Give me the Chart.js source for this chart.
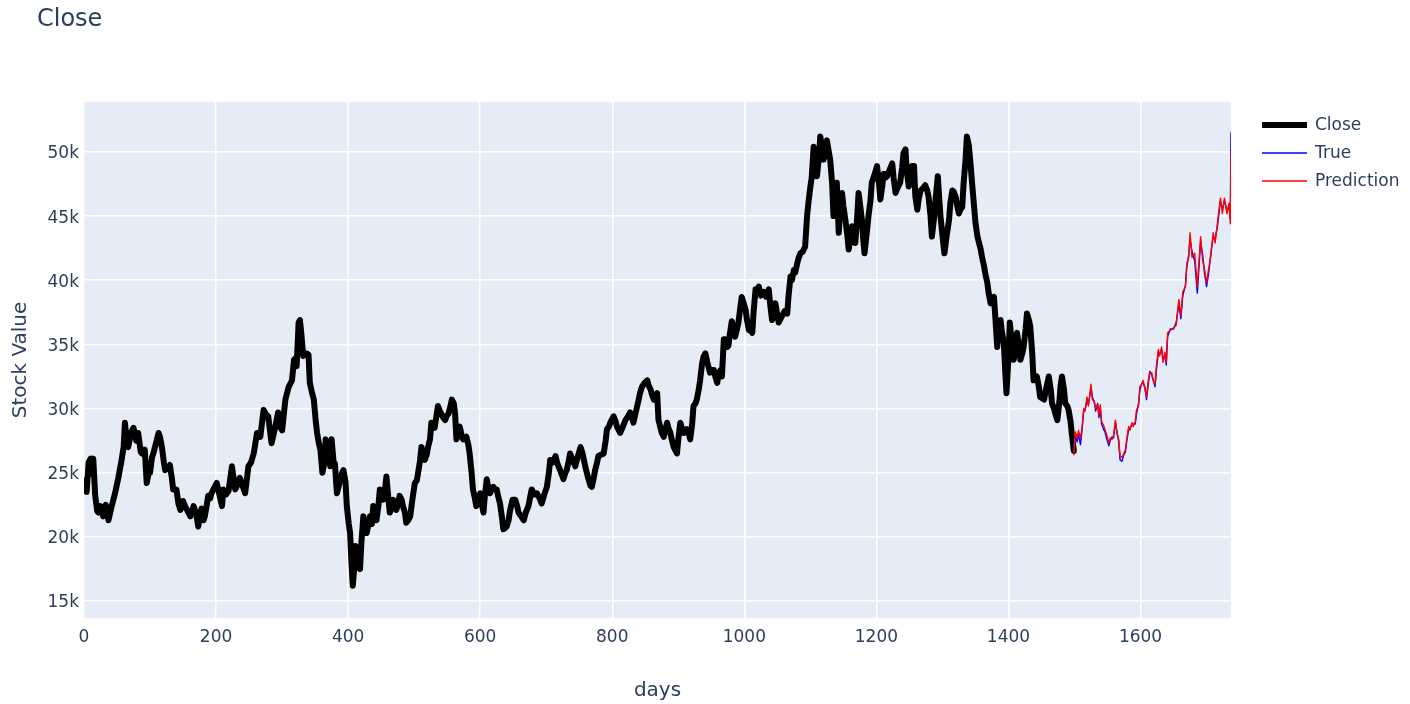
<!DOCTYPE html>
<html>
<head>
<meta charset="utf-8">
<title>Close</title>
<script src="https://cdn.jsdelivr.net/npm/chart.js@4/dist/chart.umd.min.js"></script>
<style>
  html, body { margin: 0; padding: 0; background: #ffffff; }
</style>
</head>
<body>
<canvas id="myChart" width="1410" height="704"></canvas>
<script>
// values in thousands (axis shows 15k, 20k ...)
var closeDays = [
  0, 2, 4, 7, 10, 12, 14, 17, 20, 22,
  25, 29, 33, 37, 42, 47, 52, 57, 60, 62,
  65, 67, 71, 75, 79, 82, 86, 88, 92, 95,
  98, 100, 103, 105, 109, 113, 115, 118, 121, 123,
  127, 130, 133, 135, 140, 143, 146, 150, 153, 157,
  161, 164, 166, 170, 173, 176, 178, 181, 183, 186,
  188, 191, 193, 197, 201, 205, 209, 211, 215, 219,
  224, 229, 231, 236, 240, 244, 249, 253, 257, 262,
  267, 272, 276, 279, 284, 289, 294, 297, 300, 305,
  310, 315, 318, 320, 322, 325, 327, 329, 332, 335,
  337, 340, 342, 345, 348, 351, 353, 356, 358, 361,
  363, 366, 368, 371, 373, 375, 378, 380, 383, 386,
  388, 391, 393, 396, 398, 401, 403, 405, 407, 409,
  411, 414, 416, 418, 420, 423, 426, 428, 431, 433,
  436, 438, 441, 443, 446, 448, 451, 453, 456, 458,
  461, 463, 466, 468, 471, 473, 476, 478, 481, 483,
  486, 488, 491, 494, 497, 501, 504, 506, 509, 511,
  514, 516, 519, 521, 524, 526, 529, 531, 534, 536,
  539, 541, 544, 547, 549, 552, 555, 557, 560, 562,
  564, 567, 569, 572, 574, 577, 579, 582, 584, 587,
  589, 592, 594, 597, 600, 602, 605, 607, 610, 612,
  615, 617, 620, 622, 625, 627, 630, 633, 635, 638,
  640, 643, 645, 649, 653, 656, 658, 662, 666, 669,
  673, 676, 678, 682, 686, 690, 693, 697, 701, 704,
  706, 710, 714, 717, 721, 724, 726, 729, 731, 734,
  736, 740, 744, 748, 752, 755, 757, 760, 764, 767,
  769, 772, 774, 777, 779, 783, 787, 790, 792, 795,
  797, 800, 802, 805, 807, 810, 812, 816, 820, 824,
  827, 830, 832, 836, 840, 842, 845, 849, 853, 855,
  858, 860, 863, 865, 868, 870, 873, 875, 878, 880,
  883, 885, 888, 890, 893, 895, 898, 900, 903, 906,
  908, 911, 913, 916, 918, 921, 923, 926, 928, 931,
  933, 936, 938, 941, 944, 948, 951, 954, 956, 959,
  961, 964, 966, 969, 971, 974, 976, 978, 981, 984,
  986, 989, 991, 994, 996, 999, 1002, 1004, 1007, 1009,
  1012, 1014, 1017, 1019, 1022, 1025, 1029, 1033, 1037, 1039,
  1042, 1044, 1047, 1050, 1052, 1055, 1057, 1061, 1065, 1067,
  1070, 1072, 1075, 1077, 1080, 1082, 1085, 1088, 1092, 1095,
  1097, 1100, 1102, 1105, 1108, 1110, 1113, 1115, 1118, 1120,
  1123, 1125, 1128, 1130, 1133, 1135, 1138, 1140, 1143, 1145,
  1148, 1150, 1153, 1156, 1158, 1161, 1163, 1166, 1168, 1171,
  1173, 1176, 1178, 1180, 1182, 1185, 1188, 1191, 1193, 1197,
  1201, 1204, 1206, 1209, 1211, 1214, 1216, 1220, 1224, 1226,
  1229, 1232, 1236, 1239, 1241, 1244, 1246, 1249, 1252, 1254,
  1257, 1259, 1262, 1264, 1267, 1271, 1274, 1277, 1279, 1282,
  1284, 1287, 1289, 1293, 1295, 1297, 1300, 1303, 1306, 1310,
  1312, 1315, 1317, 1320, 1322, 1325, 1327, 1330, 1332, 1335,
  1337, 1340, 1342, 1345, 1348, 1350, 1353, 1355, 1358, 1360,
  1363, 1365, 1368, 1370, 1373, 1375, 1378, 1380, 1383, 1385,
  1388, 1390, 1393, 1395, 1397, 1400, 1402, 1405, 1408, 1410,
  1413, 1416, 1418, 1421, 1423, 1426, 1428, 1431, 1433, 1436,
  1438, 1441, 1443, 1446, 1448, 1451, 1454, 1456, 1459, 1461,
  1464, 1466, 1469, 1471, 1474, 1477, 1479, 1481, 1484, 1486,
  1489, 1491, 1494, 1496, 1499
]
var closeValues = [
  23.9, 24.4, 23.5, 25.8, 26.1, 24.9, 26.1, 23.2, 22.0, 21.9,
  22.4, 21.6, 22.5, 21.3, 22.4, 23.4, 24.6, 26.0, 27.0, 28.9,
  27.3, 27.0, 28.1, 28.5, 27.5, 28.1, 26.6, 26.5, 26.8, 24.2,
  25.0, 25.0, 26.2, 26.5, 27.3, 28.1, 27.8, 27.0, 25.8, 25.2,
  25.4, 25.6, 24.6, 23.7, 23.7, 22.6, 22.1, 22.8, 22.4, 22.0,
  21.6, 22.0, 22.4, 21.8, 20.8, 21.8, 22.2, 21.3, 21.6, 22.5,
  23.2, 23.0, 23.4, 23.8, 24.2, 23.3, 22.4, 23.7, 23.3, 23.6,
  25.5, 23.7, 23.9, 24.6, 24.0, 23.4, 25.5, 25.8, 26.5, 28.1,
  27.8, 29.9, 29.5, 29.4, 27.3, 28.4, 29.7, 28.6, 28.3, 30.7,
  31.7, 32.2, 33.8, 33.9, 33.3, 36.7, 36.9, 35.9, 34.1, 34.3,
  34.3, 34.2, 32.0, 31.3, 30.7, 29.0, 28.1, 27.2, 26.8, 25.0,
  25.5, 27.6, 27.3, 26.0, 25.5, 27.6, 25.8, 25.7, 23.4, 24.0,
  24.5, 25.0, 25.2, 24.3, 22.4, 21.0, 20.3, 18.0, 16.2, 17.4,
  19.3, 19.0, 17.6, 17.5, 19.5, 21.6, 20.8, 20.3, 21.0, 21.6,
  21.0, 22.4, 22.0, 21.3, 22.5, 23.7, 23.2, 22.9, 23.8, 24.7,
  23.0, 21.9, 22.2, 22.9, 22.4, 22.1, 22.7, 23.2, 22.9, 22.4,
  21.9, 21.1, 21.3, 21.6, 22.8, 24.2, 24.4, 25.0, 26.0, 27.0,
  26.4, 26.0, 26.4, 27.0, 27.6, 28.9, 28.7, 28.5, 29.5, 30.2,
  29.8, 29.6, 29.3, 29.1, 29.4, 29.6, 30.2, 30.7, 30.4, 29.6,
  27.6, 28.2, 28.6, 27.9, 27.6, 27.7, 27.8, 27.2, 26.5, 25.0,
  23.7, 23.0, 22.4, 23.0, 23.4, 22.6, 21.9, 23.2, 24.5, 23.9,
  23.4, 23.8, 23.9, 23.7, 23.7, 23.2, 22.6, 21.5, 20.6, 20.7,
  20.8, 21.3, 22.0, 22.9, 22.9, 22.4, 21.9, 21.6, 21.3, 21.9,
  22.4, 23.2, 23.7, 23.3, 23.4, 23.0, 22.6, 23.3, 23.9, 25.0,
  26.0, 25.8, 26.3, 25.7, 25.2, 24.8, 24.5, 25.0, 25.2, 25.9,
  26.5, 26.0, 25.5, 26.3, 27.0, 26.5, 26.0, 25.3, 24.5, 24.0,
  23.9, 24.6, 25.2, 25.8, 26.3, 26.4, 26.5, 27.5, 28.4, 28.6,
  28.9, 29.2, 29.4, 29.0, 28.6, 28.3, 28.1, 28.6, 29.1, 29.4,
  29.7, 29.3, 28.9, 29.8, 30.7, 31.2, 31.7, 32.0, 32.2, 31.8,
  31.5, 31.1, 30.7, 30.9, 31.2, 29.1, 28.5, 28.1, 27.8, 28.3,
  28.9, 28.5, 28.1, 27.6, 27.0, 26.8, 26.5, 27.6, 28.9, 28.4,
  28.1, 28.2, 28.4, 28.0, 27.6, 28.8, 30.2, 30.4, 30.7, 31.5,
  32.2, 33.5, 34.0, 34.3, 33.6, 32.8, 33.0, 33.0, 32.5, 32.0,
  32.7, 33.0, 32.5, 35.4, 35.4, 34.8, 34.9, 35.8, 36.8, 36.2,
  35.6, 36.2, 36.7, 37.9, 38.7, 38.2, 37.7, 36.9, 36.1, 36.3,
  35.9, 37.5, 39.3, 39.0, 39.5, 38.8, 39.1, 38.7, 39.3, 38.2,
  36.9, 37.5, 38.2, 37.3, 36.7, 37.0, 37.2, 37.6, 37.4, 38.8,
  40.3, 40.0, 40.8, 40.6, 41.3, 41.7, 42.1, 42.2, 42.6, 45.0,
  46.0, 47.3, 48.0, 50.4, 49.0, 48.1, 49.6, 51.2, 50.3, 49.4,
  50.2, 50.9, 50.0, 49.4, 47.5, 45.0, 46.3, 47.6, 43.7, 45.5,
  46.8, 45.8, 44.7, 43.5, 42.4, 43.3, 44.2, 43.4, 42.9, 45.0,
  46.8, 45.6, 44.7, 43.2, 42.1, 43.5, 45.0, 46.2, 47.6, 48.2,
  48.9, 47.5, 46.3, 47.4, 48.3, 48.0, 48.1, 48.6, 49.1, 48.0,
  46.8, 47.2, 47.6, 48.8, 49.9, 50.2, 48.5, 47.3, 48.0, 48.9,
  48.9, 46.5, 45.5, 46.3, 47.0, 47.2, 47.4, 47.0, 46.5, 45.0,
  43.4, 44.7, 46.0, 48.1, 46.5, 45.0, 43.5, 42.1, 43.3, 44.7,
  46.0, 47.0, 46.9, 46.5, 45.9, 45.2, 45.5, 45.7, 47.5, 49.4,
  51.2, 50.5, 49.4, 47.5, 45.7, 44.5, 43.4, 43.0, 42.4, 41.8,
  41.1, 40.5, 39.8, 39.0, 38.2, 38.5, 38.7, 37.2, 34.8, 36.0,
  36.9, 36.0, 35.1, 33.0, 31.2, 34.0, 36.7, 35.2, 33.8, 34.8,
  35.9, 34.8, 33.8, 34.3, 34.8, 36.2, 37.4, 36.9, 36.4, 34.3,
  32.2, 32.4, 32.5, 31.7, 30.9, 30.8, 30.7, 31.3, 32.0, 32.5,
  31.5, 30.4, 30.0, 29.6, 29.1, 30.5, 31.8, 32.5, 31.5, 30.4,
  30.2, 29.9, 29.0, 28.0, 26.7
]

var testDays = [
  1499, 1501, 1504, 1506, 1509, 1511, 1514, 1516, 1519, 1521,
  1525, 1527, 1530, 1532, 1535, 1537, 1539, 1541, 1544, 1546,
  1549, 1552, 1554, 1557, 1559, 1562, 1564, 1567, 1569, 1572,
  1574, 1577, 1579, 1582, 1584, 1587, 1589, 1592, 1594, 1597,
  1599, 1602, 1604, 1607, 1609, 1612, 1614, 1617, 1619, 1622,
  1624, 1627, 1629, 1632, 1634, 1637, 1639, 1641, 1645, 1650,
  1654, 1658, 1661, 1664, 1668, 1670, 1673, 1675, 1678, 1682,
  1686, 1691, 1694, 1697, 1700, 1703, 1707, 1710, 1713, 1717,
  1721, 1724, 1727, 1731, 1734, 1736, 1737
]
var trueValues = [
  26.8, 27.9, 27.4, 28.0, 27.2, 28.1, 29.8, 29.9, 30.7, 30.3,
  31.6, 30.9, 30.5, 29.8, 30.4, 29.3, 30.1, 28.8, 28.4, 28.2,
  27.6, 27.1, 27.5, 27.8, 27.7, 28.9, 28.3, 27.4, 26.0, 25.9,
  26.3, 26.6, 27.4, 28.4, 28.5, 28.7, 28.8, 28.8, 29.6, 30.4,
  31.4, 32.0, 32.0, 31.6, 30.7, 32.0, 32.9, 32.6, 32.3, 31.7,
  33.0, 34.4, 34.3, 34.6, 33.8, 34.1, 33.4, 35.6, 36.2, 36.2,
  36.7, 38.2, 37.0, 38.8, 39.6, 41.0, 42.0, 43.2, 42.2, 41.5,
  39.0, 43.0, 42.0, 40.5, 39.5, 40.5, 42.3, 43.4, 43.2, 44.4,
  46.2, 45.5, 46.2, 45.4, 45.8, 44.8, 51.5
]
var predValues = [
  26.4, 28.2, 27.7, 28.3, 27.7, 28.3, 30.0, 29.8, 30.9, 30.2,
  31.9, 30.7, 30.6, 30.0, 30.3, 29.5, 30.3, 29.0, 28.7, 28.4,
  27.9, 27.3, 27.7, 27.6, 27.9, 29.1, 28.1, 27.6, 26.3, 26.2,
  26.4, 26.8, 27.6, 28.6, 28.3, 28.9, 28.6, 29.0, 29.9, 30.2,
  31.7, 31.9, 32.2, 31.4, 30.9, 32.3, 32.8, 32.8, 32.2, 31.9,
  33.3, 34.6, 34.1, 34.8, 33.6, 34.4, 33.6, 35.9, 36.1, 36.3,
  36.5, 38.5, 37.2, 39.1, 39.5, 41.3, 41.8, 43.7, 41.8, 42.1,
  39.5, 43.4, 41.6, 40.8, 39.8, 40.8, 42.1, 43.7, 42.9, 44.7,
  46.4, 45.2, 46.4, 45.2, 46.0, 44.4, 49.8
]

var xTickValues = [0, 200, 400, 600, 800, 1000, 1200, 1400, 1600]
var yTickValues = [15, 20, 25, 30, 35, 40, 45, 50]
var xMax = 1737
var yMin = 13.68
var yMax = 53.89

var textColor = '#2a3f5f'
var fontFamily = "'DejaVu Sans', verdana, arial, sans-serif"

function toPoints(days, values) {
    var pts = []
    for (var i = 0; i < Math.min(days.length, values.length); i++) {
        pts.push({x: days[i], y: values[i]})
    }
    return pts
}

// plot background, title and legend drawn the plotly way
var plotlyLook = {
    id: 'plotlyLook',
    beforeDraw: function(chart) {
        var a = chart.chartArea
        var c = chart.ctx
        c.save()
        c.fillStyle = '#E5ECF6'
        c.fillRect(a.left, a.top, a.right - a.left, a.bottom - a.top)
        c.restore()
    },
    afterDraw: function(chart) {
        var c = chart.ctx
        c.save()
        c.fillStyle = textColor
        c.textBaseline = 'middle'
        c.font = '24px ' + fontFamily
        c.fillText('Close', 37, 20)

        c.font = '17px ' + fontFamily
        var rows = [125, 153, 181]
        chart.data.datasets.forEach(function(ds, i) {
            c.beginPath()
            c.strokeStyle = ds.borderColor
            c.lineWidth = ds.borderWidth
            c.moveTo(1262, rows[i])
            c.lineTo(1307, rows[i])
            c.stroke()
            c.fillText(ds.label, 1315, rows[i] + 1)
        })
        c.restore()
    }
}

Chart.defaults.font.family = fontFamily
Chart.defaults.color = textColor

const ctx = document.getElementById('myChart')
new Chart(ctx, {
    type: 'line',
    data: {
        datasets: [{
            label: 'Close',
            data: toPoints(closeDays, closeValues),
            borderColor: '#000000',
            borderWidth: 6,
            order: 3
        }, {
            label: 'True',
            data: toPoints(testDays, trueValues),
            borderColor: '#0000ff',
            borderWidth: 1.4,
            order: 2
        }, {
            label: 'Prediction',
            data: toPoints(testDays, predValues),
            borderColor: '#ff0000',
            borderWidth: 1.4,
            order: 1
        }]
    },
    options: {
        responsive: false,
        animation: false,
        devicePixelRatio: 1,
        layout: { padding: { left: 0, right: 179, top: 102, bottom: 0 } },
        elements: {
            point: { radius: 0 },
            line: { tension: 0, borderJoinStyle: 'round', borderCapStyle: 'round', fill: false }
        },
        plugins: {
            legend: { display: false },
            tooltip: { enabled: false }
        },
        scales: {
            x: {
                type: 'linear',
                min: 0,
                max: xMax,
                border: { display: false },
                grid: { color: '#ffffff', lineWidth: 1.5, drawTicks: false },
                ticks: {
                    padding: 9,
                    font: { size: 17 },
                    color: textColor,
                    callback: function(v) { return String(v) }
                },
                title: { display: true, text: 'days', font: { size: 20 }, color: textColor, padding: { top: 0, bottom: 1 } },
                afterBuildTicks: function(s) { s.ticks = xTickValues.map(function(v) { return {value: v} }) },
                afterFit: function(s) { s.height = 86 }
            },
            y: {
                type: 'linear',
                min: yMin,
                max: yMax,
                border: { display: false },
                grid: { color: '#ffffff', lineWidth: 1.5, drawTicks: false },
                ticks: {
                    padding: 5,
                    labelOffset: 2,
                    font: { size: 17 },
                    color: textColor,
                    callback: function(v) { return v + 'k' }
                },
                title: { display: true, text: 'Stock Value', font: { size: 20 }, color: textColor, padding: { top: 9, bottom: 0 } },
                afterBuildTicks: function(s) { s.ticks = yTickValues.map(function(v) { return {value: v} }) },
                afterFit: function(s) { s.width = 84 }
            }
        }
    },
    plugins: [plotlyLook]
})
</script>
</body>
</html>
